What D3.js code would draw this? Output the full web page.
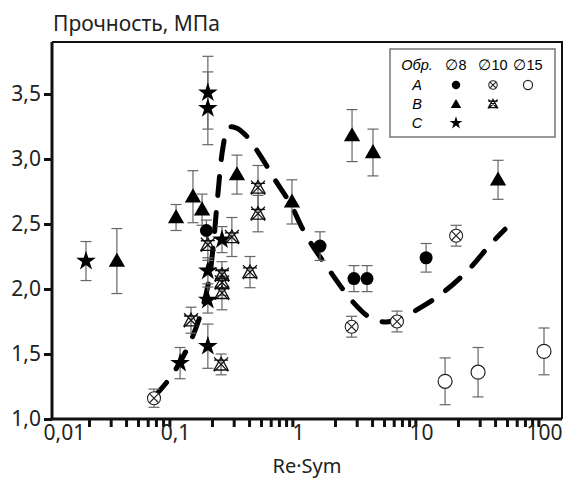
<!DOCTYPE html>
<html><head><meta charset="utf-8">
<script src="https://cdn.jsdelivr.net/npm/d3@7"></script>
<style>body{margin:0;background:#fff}</style>
</head><body>
<svg id="c" width="567" height="481"></svg>
<script>
// ---- data ----
const yTitle = "Прочность, МПа";
const xTitle = "Re·Sym";
const xTickValues = [0.01, 0.1, 1, 10, 100];
const xTickLabels = ["0,01", "0,1", "1", "10", "100"];
const yTickValues = [1.0, 1.5, 2.0, 2.5, 3.0, 3.5];
const yTickLabels = ["1,0", "1,5", "2,0", "2,5", "3,0", "3,5"];

// series: [x, y, err]
const A8 = [[0.18, 2.45, 0.08], [1.51, 2.33, 0.11], [2.85, 2.08, 0.1], [3.64, 2.08, 0.1], [11.0, 2.24, 0.11]];
const A10 = [[0.0675, 1.16, 0.07], [2.73, 1.71, 0.08], [6.38, 1.75, 0.08], [19.3, 2.41, 0.08]];
const A15 = [[15.7, 1.29, 0.18], [29.1, 1.36, 0.19], [100, 1.52, 0.18]];
const B8 = [[0.0337, 2.215, 0.25], [0.102, 2.55, 0.1], [0.14, 2.71, 0.2], [0.166, 2.61, 0.12], [0.319, 2.88, 0.15], [0.893, 2.67, 0.17], [2.75, 3.18, 0.2], [4.07, 3.05, 0.18], [42.3, 2.84, 0.15]];
const B10 = [[0.473, 2.78, 0.17], [0.473, 2.58, 0.14], [0.185, 2.34, 0.12], [0.29, 2.40, 0.15], [0.241, 2.11, 0.1], [0.241, 2.05, 0.1], [0.241, 1.97, 0.13], [0.407, 2.13, 0.12], [0.135, 1.76, 0.1], [0.237, 1.42, 0.08]];
const C8 = [[0.0189, 2.215, 0.15], [0.185, 3.51, 0.28], [0.185, 3.39, 0.28], [0.241, 2.38, 0.1], [0.185, 2.14, 0.1], [0.185, 1.915, 0.1], [0.185, 1.56, 0.17], [0.110, 1.43, 0.12]];
// dashed trend curve
const curveX = [0.0675, 0.091, 0.1276, 0.1627, 0.189, 0.2037, 0.2237, 0.2456, 0.27, 0.313, 0.378, 0.491, 0.65, 0.861, 1.16, 1.75, 2.8, 3.85, 5.19, 7.14, 9.82, 15.7, 25.0, 36.4, 48.2];
const curveY = [1.17, 1.315, 1.554, 1.815, 2.07, 2.315, 2.74, 3.09, 3.24, 3.24, 3.18, 3.03, 2.84, 2.66, 2.415, 2.16, 1.90, 1.78, 1.746, 1.785, 1.854, 1.985, 2.16, 2.34, 2.46];

// ---- layout ----
const svg = d3.select("#c");
const L = 52, R = 562, T = 42, B = 419;
const x = d3.scaleLog().domain([0.01, 10 ** (2 + (R - 544) / 123)]).range([L, R]);
const y = d3.scaleLinear().domain([1.0, 3.9]).range([B, T]);
const font = "'Noto Sans', 'Open Sans', sans-serif";
const fs = 21;

// frame
svg.append("path").attr("d", `M${L},${T}H${R}V${B}`).attr("fill", "none").attr("stroke", "#111").attr("stroke-width", 2);

// curve
const line = d3.line().x(d => x(d[0])).y(d => y(d[1])).curve(d3.curveCatmullRom);
svg.append("path").datum(curveX.map((v, i) => [v, curveY[i]]))
  .attr("d", line).attr("fill", "none").attr("stroke", "#000").attr("stroke-width", 5)
  .attr("stroke-linecap", "round").attr("stroke-dasharray", "19,17");

// error bars
function errs(data) {
  const g = svg.append("g").attr("stroke", "#666").attr("stroke-width", 1.2);
  data.forEach(d => {
    const cx = x(d[0]), y1 = y(d[1] - d[2]), y2 = y(d[1] + d[2]);
    g.append("line").attr("x1", cx).attr("x2", cx).attr("y1", y1).attr("y2", y2);
    g.append("line").attr("x1", cx - 5.5).attr("x2", cx + 5.5).attr("y1", y1).attr("y2", y1);
    g.append("line").attr("x1", cx - 5.5).attr("x2", cx + 5.5).attr("y1", y2).attr("y2", y2);
  });
}
[A8, A10, A15, B8, B10, C8].forEach(errs);

// markers
const triSym = d3.symbol().type(d3.symbolTriangle).size(115)();
const starSym = d3.symbol().type(d3.symbolStar).size(120)();
function drawMarker(g, kind, cx, cy, scale) {
  const s = scale || 1;
  if (kind === "A8") {
    g.append("circle").attr("cx", cx).attr("cy", cy).attr("r", 6.5 * s).attr("fill", "#000");
  } else if (kind === "A10") {
    const r = 6.5 * s;
    g.append("circle").attr("cx", cx).attr("cy", cy).attr("r", r).attr("fill", "#fff").attr("stroke", "#222").attr("stroke-width", 1.1);
    const k = r * 0.7;
    g.append("path").attr("d", `M${cx - k},${cy - k}L${cx + k},${cy + k}M${cx - k},${cy + k}L${cx + k},${cy - k}`).attr("stroke", "#222").attr("stroke-width", 1.1);
  } else if (kind === "A15") {
    g.append("circle").attr("cx", cx).attr("cy", cy).attr("r", 7 * s).attr("fill", "#fff").attr("stroke", "#222").attr("stroke-width", 1.2);
  } else if (kind === "B8") {
    g.append("path").attr("d", triSym).attr("transform", `translate(${cx},${cy + 1}) scale(${s})`).attr("fill", "#000");
  } else if (kind === "B10") {
    const k = 7 * s;
    g.append("path").attr("d", `M${cx},${cy - k}L${cx + k},${cy + k * 0.8}L${cx - k},${cy + k * 0.8}Z M${cx - k},${cy - k}L${cx + k},${cy + k}M${cx - k},${cy + k}L${cx + k},${cy - k} M${cx - k},${cy - k * 0.6}L${cx + k},${cy - k * 0.6}`)
      .attr("fill", "none").attr("stroke", "#111").attr("stroke-width", 1.3);
  } else if (kind === "C8") {
    g.append("path").attr("d", starSym).attr("transform", `translate(${cx},${cy}) scale(${s})`).attr("fill", "#000");
  }
}
const mg = svg.append("g");
[["A10", A10], ["A15", A15], ["B10", B10], ["A8", A8], ["B8", B8], ["C8", C8]].forEach(([k, data]) => {
  data.forEach(d => drawMarker(mg, k, x(d[0]), y(d[1])));
});

// axes
const yAxis = d3.axisLeft(y).tickValues(yTickValues).tickFormat((d, i) => yTickLabels[i]).tickSize(8).tickPadding(3);
const gy = svg.append("g").attr("transform", `translate(${L},0)`).call(yAxis);
gy.select(".domain").attr("stroke", "#111").attr("stroke-width", 3).attr("d", `M0,${T}V${B}`);
gy.selectAll(".tick line").attr("stroke", "#111").attr("stroke-width", 3);
gy.selectAll(".tick text").attr("font-family", font).attr("font-size", fs).attr("fill", "#222");

const minor = [];
for (let e = -2; e <= 1; e++) for (let m = 2; m <= 9; m++) minor.push(m * Math.pow(10, e));
const xMinor = d3.axisBottom(x).tickValues(minor).tickSize(8).tickFormat("");
const gxm = svg.append("g").attr("transform", `translate(0,${B})`).call(xMinor);
gxm.select(".domain").remove();
gxm.selectAll(".tick line").attr("stroke", "#111").attr("stroke-width", 3);

const xAxis = d3.axisBottom(x).tickValues(xTickValues).tickFormat((d, i) => xTickLabels[i]).tickSize(0).tickPadding(6);
const gx = svg.append("g").attr("transform", `translate(0,${B})`).call(xAxis);
gx.select(".domain").attr("stroke", "#111").attr("stroke-width", 3).attr("d", `M${L},0H${R}`);
gx.selectAll(".tick text").attr("font-family", font).attr("font-size", fs).attr("fill", "#222").attr("dy", "0.7em");
// first label sits just right of the y labels
gx.selectAll(".tick text").filter((d, i) => i === 0).attr("text-anchor", "start").attr("dx", -9);

// titles
svg.append("text").attr("x", 53).attr("y", 31).text(yTitle).attr("font-family", font).attr("font-size", fs).attr("fill", "#222");
svg.append("text").attr("x", (L + R) / 2).attr("y", 473).attr("text-anchor", "middle").text(xTitle).attr("font-family", font).attr("font-size", 20).attr("fill", "#222");

// legend
const lg = svg.append("g");
lg.append("rect").attr("x", 390).attr("y", 49).attr("width", 165).attr("height", 88).attr("fill", "#fff").attr("stroke", "#777").attr("stroke-width", 1.5);
const lf = "'Liberation Sans', Arial, sans-serif";
const colX = [417, 456, 493, 528];
const rowY = [65, 85, 104, 123];
const hdr = ["Обр.", "∅8", "∅10", "∅15"];
hdr.forEach((t, i) => lg.append("text").attr("x", colX[i]).attr("y", rowY[0] + 5).attr("text-anchor", "middle")
  .attr("font-family", lf).attr("font-size", 14.5).attr("font-style", i === 0 ? "italic" : "normal").text(t));
const rows = [["A", ["A8", "A10", "A15"]], ["B", ["B8", "B10"]], ["C", ["C8"]]];
rows.forEach(([lab, kinds], r) => {
  lg.append("text").attr("x", colX[0]).attr("y", rowY[r + 1] + 5).attr("text-anchor", "middle")
    .attr("font-family", lf).attr("font-size", 14.5).attr("font-style", "italic").text(lab);
  kinds.forEach((k, c) => drawMarker(lg, k, colX[c + 1], rowY[r + 1], 0.65));
});
</script>
</body></html>
